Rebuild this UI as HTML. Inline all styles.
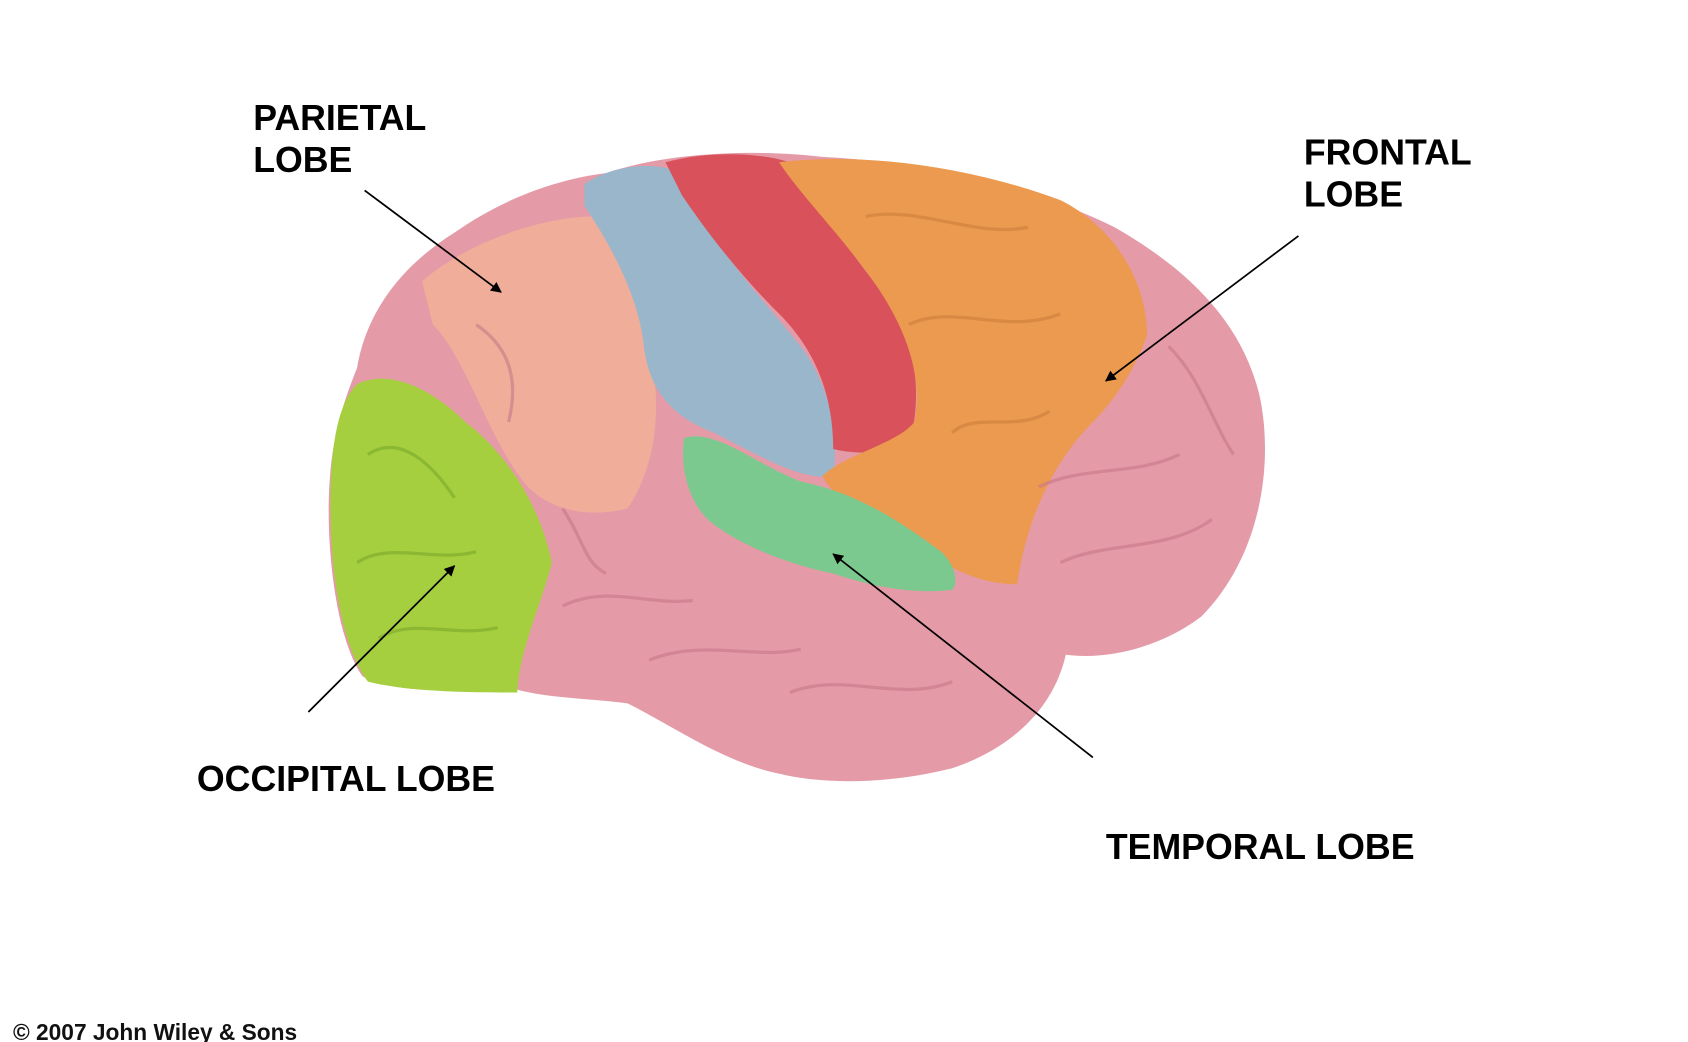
<!DOCTYPE html>
<html><head><meta charset="utf-8"><style>
html,body{margin:0;padding:0;background:#fff;width:1688px;height:1042px;overflow:hidden}
svg{display:block}
</style></head><body>
<svg width="1688" height="1042" viewBox="0 0 1560 963" preserveAspectRatio="none" xmlns="http://www.w3.org/2000/svg">
<defs>
<marker id="ah" markerWidth="10" markerHeight="10" refX="9" refY="5" orient="auto" markerUnits="userSpaceOnUse">
<path d="M0,0 L10,5 L0,10 z" fill="#000"/></marker>
</defs>
<path d="M330,340 C340,280 380,240 420,215 C470,180 520,165 560,160 C620,140 700,138 760,145 C860,150 960,175 1030,210 C1100,250 1150,300 1165,370 C1178,440 1160,520 1110,570 C1070,600 1020,610 985,605 C975,650 940,690 880,710 C820,725 760,725 720,715 C670,705 620,670 580,650 C540,645 500,645 470,635 C420,640 360,640 335,625 C310,590 300,500 305,440 C308,400 318,370 330,340 Z" fill="#e59aa8"/>
<path d="M390,260 C430,225 500,200 550,200 C580,230 600,290 605,350 C610,400 600,440 580,470 C540,480 500,470 480,440 C450,400 430,330 400,300 Z" fill="#f0ae9a"/>
<path d="M330,355 C360,340 400,360 430,390 C470,420 500,470 510,520 C500,560 480,600 478,640 C440,640 380,640 340,630 C310,590 303,500 306,440 C308,400 315,370 330,355 Z" fill="#a6cf3f"/>
<path d="M540,170 C570,150 610,150 630,160 C650,220 700,270 740,320 C770,360 775,410 770,440 C740,445 700,420 660,400 C620,385 600,360 595,320 C590,270 560,220 540,190 Z" fill="#9ab6cb"/>
<path d="M615,150 C650,140 700,140 730,150 C760,200 800,250 830,290 C850,330 850,380 840,410 C820,420 790,420 770,415 C770,360 750,320 720,290 C680,250 650,210 630,180 Z" fill="#d9525b"/>
<path d="M720,150 C800,140 900,155 980,185 C1030,210 1060,260 1060,310 C1050,340 1030,370 1010,390 C980,420 950,470 940,540 C900,540 870,520 840,500 C800,480 770,460 760,440 C780,420 830,410 845,390 C855,340 830,290 800,250 C770,210 740,180 720,150 Z" fill="#eb9a4f"/>
<path d="M632,405 C660,395 700,430 740,445 C790,455 830,480 870,510 C885,525 885,540 880,545 C840,550 800,540 770,530 C720,520 680,500 660,485 C640,470 628,440 632,405 Z" fill="#7cc98f"/>
<g fill="none" stroke="#c77888" stroke-width="3" opacity="0.6">
<path d="M520,560 C560,540 600,560 640,555"/><path d="M600,610 C650,590 700,610 740,600"/>
<path d="M730,640 C780,620 830,650 880,630"/><path d="M960,450 C1000,430 1050,440 1090,420"/>
<path d="M980,520 C1020,500 1080,510 1120,480"/><path d="M1080,320 C1110,350 1120,390 1140,420"/>
<path d="M440,300 C470,320 480,350 470,390"/><path d="M520,470 C540,500 540,520 560,530"/>
</g>
<g fill="none" stroke="#7aa82c" stroke-width="3" opacity="0.6">
<path d="M340,420 C370,400 400,430 420,460"/><path d="M330,520 C360,500 400,520 440,510"/><path d="M350,590 C380,570 420,590 460,580"/>
</g>
<g fill="none" stroke="#c8783a" stroke-width="3" opacity="0.5">
<path d="M800,200 C850,190 900,220 950,210"/><path d="M840,300 C880,280 930,310 980,290"/><path d="M880,400 C900,380 940,400 970,380"/>
</g>
<g stroke="#000" stroke-width="1.6" fill="none" marker-end="url(#ah)">
<line x1="337" y1="176" x2="463" y2="270"/>
<line x1="1200" y1="218" x2="1022" y2="352"/>
<line x1="285" y1="658" x2="420" y2="523"/>
<line x1="1010" y1="700" x2="770" y2="512"/>
</g>
<g font-family="Liberation Sans, Arial, sans-serif" font-weight="bold" font-size="33" fill="#000">
<text x="234" y="120">PARIETAL</text><text x="234" y="159">LOBE</text>
<text x="1205" y="152">FRONTAL</text><text x="1205" y="191">LOBE</text>
<text x="182" y="731">OCCIPITAL LOBE</text>
<text x="1022" y="794">TEMPORAL LOBE</text>
<text x="12" y="961" font-size="21" fill="#111">© 2007 John Wiley &amp; Sons</text>
</g>
</svg>
</body></html>
